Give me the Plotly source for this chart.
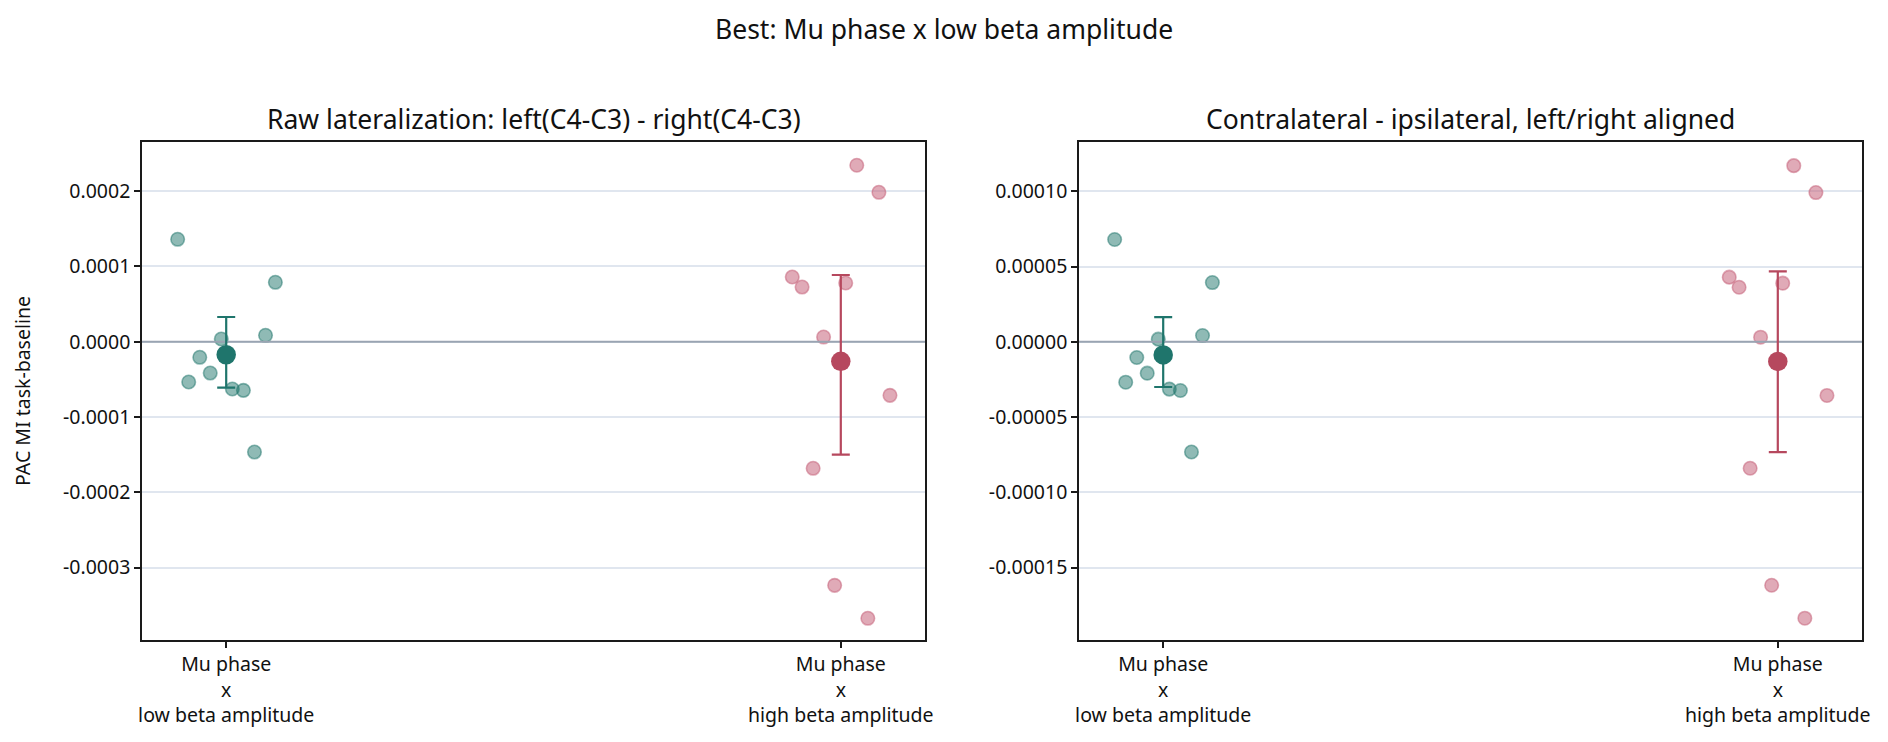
import plotly.graph_objects as go

# ---------------- data ----------------
categories = ["Mu phase<br>x<br>low beta amplitude", "Mu phase<br>x<br>high beta amplitude"]
jitter_low = [-0.079, 0.080, -0.008, 0.064, -0.043, -0.026, -0.061, 0.010, 0.028, 0.046]
jitter_high = [0.026, 0.062, -0.079, -0.063, 0.008, -0.028, 0.080, -0.045, -0.010, 0.044]

# Left panel: raw lateralization
raw_low = [1.36e-4, 0.789e-4, 0.036e-4, 0.085e-4, -0.207e-4, -0.416e-4, -0.535e-4, -0.628e-4, -0.646e-4, -1.465e-4]
raw_high = [2.343e-4, 1.984e-4, 0.859e-4, 0.726e-4, 0.780e-4, 0.062e-4, -0.712e-4, -1.681e-4, -3.235e-4, -3.673e-4]
raw_mean = [-0.173e-4, -0.261e-4]
raw_ci_low = [-0.611e-4, -1.50e-4]
raw_ci_high = [0.328e-4, 0.886e-4]

# Right panel: contralateral - ipsilateral
ci_low_pts = [0.68e-4, 0.394e-4, 0.018e-4, 0.042e-4, -0.104e-4, -0.208e-4, -0.268e-4, -0.314e-4, -0.323e-4, -0.732e-4]
ci_high_pts = [1.171e-4, 0.992e-4, 0.430e-4, 0.363e-4, 0.390e-4, 0.031e-4, -0.356e-4, -0.840e-4, -1.617e-4, -1.836e-4]
con_mean = [-0.087e-4, -0.13e-4]
con_ci_low = [-0.30e-4, -0.732e-4]
con_ci_high = [0.164e-4, 0.469e-4]

left_ticks = [0.0002, 0.0001, 0.0, -0.0001, -0.0002, -0.0003]
left_ticktext = ["0.0002", "0.0001", "0.0000", "-0.0001", "-0.0002", "-0.0003"]
right_ticks = [0.0001, 0.00005, 0.0, -0.00005, -0.0001, -0.00015]
right_ticktext = ["0.00010", "0.00005", "0.00000", "-0.00005", "-0.00010", "-0.00015"]

suptitle = "Best: Mu phase x low beta amplitude"
titles = ["Raw lateralization: left(C4-C3) - right(C4-C3)", "Contralateral - ipsilateral, left/right aligned"]
ylabel = "PAC MI task-baseline"
baseline = 0.0

# ---------------- style ----------------
TEAL = "rgb(31,117,108)"
TEAL_A = "rgba(31,117,108,0.5)"
RED = "rgb(182,72,94)"
RED_A = "rgba(198,100,124,0.55)"
ZERO = "#9aa4b2"
FONT = "Noto Sans"
TICK_SIZE = 19.5
TITLE_SIZE = 26.5
W, H = 1888, 742
XRANGE = [-0.137, 1.137]

fig = go.Figure()


def add_panel(xa, ya, low_pts, high_pts, mean, lo, hi):
    for ci, (pts, jit, col_a) in enumerate([(low_pts, jitter_low, TEAL_A), (high_pts, jitter_high, RED_A)]):
        fig.add_trace(go.Scatter(
            x=[ci + j for j in jit], y=pts, mode="markers", xaxis=xa, yaxis=ya,
            marker=dict(size=13.5, color=col_a, line=dict(color=col_a, width=1.6)),
            showlegend=False, hoverinfo="y"))
    # zero reference line (drawn above the individual points, below the means)
    fig.add_trace(go.Scatter(
        x=XRANGE, y=[baseline, baseline], mode="lines", xaxis=xa, yaxis=ya,
        line=dict(color=ZERO, width=2), showlegend=False, hoverinfo="skip"))
    for ci, col in enumerate([TEAL, RED]):
        fig.add_trace(go.Scatter(
            x=[ci], y=[mean[ci]], mode="markers", xaxis=xa, yaxis=ya,
            marker=dict(size=19.5, color=col),
            error_y=dict(type="data", symmetric=False,
                         array=[hi[ci] - mean[ci]], arrayminus=[mean[ci] - lo[ci]],
                         color=col, thickness=2.2, width=9),
            showlegend=False, hoverinfo="y"))


add_panel("x", "y", raw_low, raw_high, raw_mean, raw_ci_low, raw_ci_high)
add_panel("x2", "y2", ci_low_pts, ci_high_pts, con_mean, con_ci_low, con_ci_high)

ydom = [1 - 640 / H, 1 - 142 / H]
xdom1 = [142 / W, 925 / W]
xdom2 = [1079 / W, 1862 / W]

common_x = dict(range=XRANGE, tickvals=[0, 1], ticktext=categories, showgrid=False,
                zeroline=False, showline=True, mirror=True, linecolor="#1a1a1a", linewidth=1.6,
                ticks="outside", ticklen=6, tickwidth=1.5, tickcolor="#1a1a1a",
                tickfont=dict(family=FONT, size=TICK_SIZE, color="#111"), automargin=False)
common_y = dict(showgrid=True, gridcolor="#e0e6ef", gridwidth=1.5, zeroline=False,
                showline=True, mirror=True, linecolor="#1a1a1a", linewidth=1.6,
                ticks="outside", ticklen=6, tickwidth=1.5, tickcolor="#1a1a1a",
                tickfont=dict(family=FONT, size=TICK_SIZE, color="#111"), automargin=False)

fig.update_layout(
    width=W, height=H, margin=dict(l=0, r=0, t=0, b=0),
    paper_bgcolor="white", plot_bgcolor="white",
    xaxis=dict(domain=xdom1, anchor="y", **common_x),
    yaxis=dict(domain=ydom, anchor="x", range=[-3.961e-4, 2.652e-4],
               tickvals=left_ticks, ticktext=left_ticktext, **common_y),
    xaxis2=dict(domain=xdom2, anchor="y2", **common_x),
    yaxis2=dict(domain=ydom, anchor="x2", range=[-1.981e-4, 1.328e-4],
                tickvals=right_ticks, ticktext=right_ticktext, **common_y),
    annotations=[
        dict(text=suptitle, x=0.5, y=1 - 29 / H, xref="paper", yref="paper",
             xanchor="center", yanchor="middle", showarrow=False,
             font=dict(family=FONT, size=TITLE_SIZE, color="#111")),
        dict(text=titles[0], x=sum(xdom1) / 2, y=1 - 119 / H, xref="paper", yref="paper",
             xanchor="center", yanchor="middle", showarrow=False,
             font=dict(family=FONT, size=TITLE_SIZE, color="#111")),
        dict(text=titles[1], x=sum(xdom2) / 2, y=1 - 119 / H, xref="paper", yref="paper",
             xanchor="center", yanchor="middle", showarrow=False,
             font=dict(family=FONT, size=TITLE_SIZE, color="#111")),
        dict(text=ylabel, x=22 / W, y=sum(ydom) / 2, xref="paper", yref="paper",
             xanchor="center", yanchor="middle", showarrow=False, textangle=-90,
             font=dict(family=FONT, size=TICK_SIZE, color="#111")),
    ],
)

fig.write_html("out.html")
